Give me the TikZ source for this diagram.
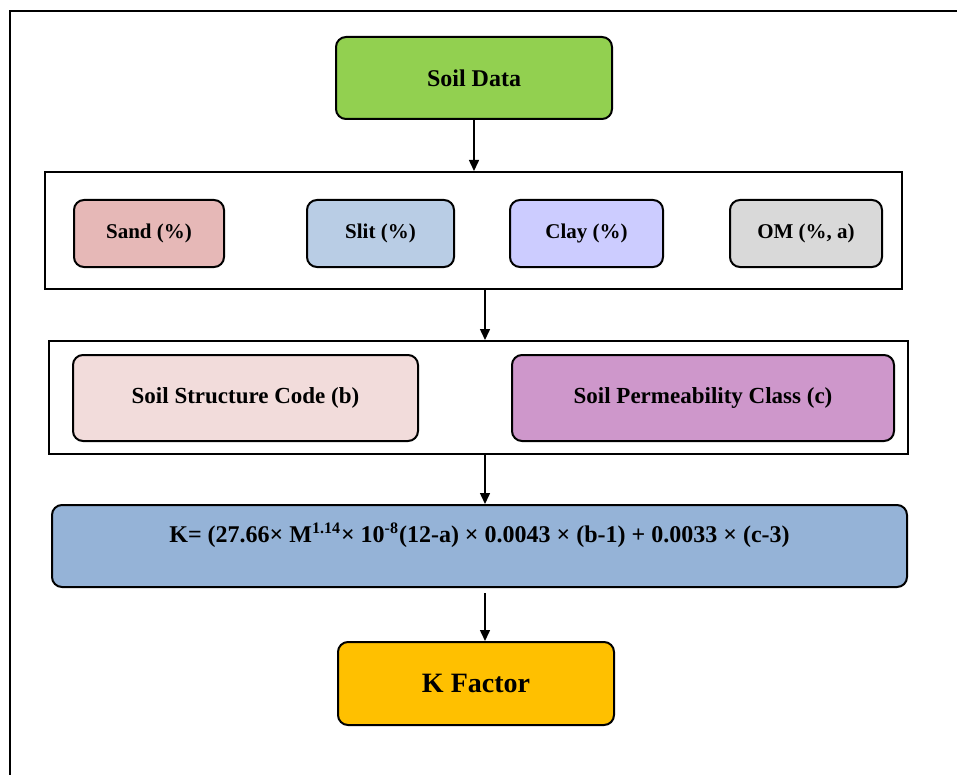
\documentclass[tikz,border=0pt]{standalone}
\usepackage{fontspec}
\setmainfont{Liberation Serif}
\usetikzlibrary{arrows.meta}

\definecolor{verde}{HTML}{92D050}
\definecolor{arena}{HTML}{E6B8B7}
\definecolor{limo}{HTML}{B9CDE5}
\definecolor{arcilla}{HTML}{CCCCFF}
\definecolor{materia}{HTML}{D9D9D9}
\definecolor{estructura}{HTML}{F2DCDB}
\definecolor{permeab}{HTML}{CE97CB}
\definecolor{formula}{HTML}{95B3D7}
\definecolor{naranja}{HTML}{FFC000}

\begin{document}
\begin{tikzpicture}[x=0.5pt, y=-0.5pt,
    caja/.style={draw, line width=1pt, rounded corners=5pt, align=center,
        font=\bfseries\fontsize{10.5}{13}\selectfont},
    grupo/.style={draw, line width=1pt},
    flecha/.style={line width=0.75pt, -{Triangle[length=5.5pt, width=5pt]}}]
    \useasboundingbox (0,0) rectangle (957,775);
    \draw[line width=1.2pt] (957,11) -- (10,11) -- (10,775);

    % Datos de suelo
    \node[caja, fill=verde, minimum width=138pt, minimum height=41pt, font=\bfseries\fontsize{12}{14}\selectfont] (datos) at (474,78) {Soil Data};

    % Grupo 1: textura y materia organica
    \node[grupo, minimum width=428.5pt, minimum height=58.5pt] (grupoa) at (473.5,230.5) {};
    \node[caja, fill=arena, minimum width=75pt, minimum height=33.5pt] (arena) at (149,233.5) {Sand (\%)};
    \node[caja, fill=limo, minimum width=73.5pt, minimum height=33.5pt] (limo) at (380.5,233.5) {Slit (\%)};
    \node[caja, fill=arcilla, minimum width=76.5pt, minimum height=33.5pt] (arcilla) at (586.5,233.5) {Clay (\%)};
    \node[caja, fill=materia, minimum width=76pt, minimum height=33.5pt] (om) at (806,233.5) {OM (\%, a)};

    % Grupo 2: estructura y permeabilidad
    \node[grupo, minimum width=429.5pt, minimum height=56.5pt] (grupob) at (478.5,397.5) {};
    \node[caja, fill=estructura, minimum width=172.5pt, minimum height=43pt, font=\bfseries\fontsize{11.5}{14}\selectfont] (estructura) at (245.5,398) {Soil Structure Code (b)};
    \node[caja, fill=permeab, minimum width=191pt, minimum height=43pt, font=\bfseries\fontsize{11.5}{14}\selectfont] (permeab) at (703,398) {Soil Permeability Class (c)};

    % Ecuacion y resultado
    \node[caja, fill=formula, minimum width=427.5pt, minimum height=41pt, text height=8.5pt, text depth=12.5pt,
        font=\bfseries\fontsize{12}{14}\selectfont] (ecuacion) at (479.5,546)
        {K= (27.66× M\textsuperscript{1.14}× 10\textsuperscript{-8}(12-a) × 0.0043 × (b-1) + 0.0033 × (c-3)};
    \node[caja, fill=naranja, minimum width=138pt, minimum height=41.5pt, font=\bfseries\fontsize{14}{16}\selectfont] (kfactor) at (476,683.5) {K Factor};

    \draw[flecha] (datos.south) -- (datos.south |- grupoa.north);
    \draw[flecha] ([xshift=5.75pt]grupoa.south) -- ([xshift=3.25pt]grupob.north);
    \draw[flecha] ([xshift=3.25pt]grupob.south) -- ([xshift=2.75pt]ecuacion.north);
    \draw[flecha] ([xshift=2.75pt, yshift=-2.5pt]ecuacion.south) -- ([xshift=4.5pt]kfactor.north);
\end{tikzpicture}
\end{document}
